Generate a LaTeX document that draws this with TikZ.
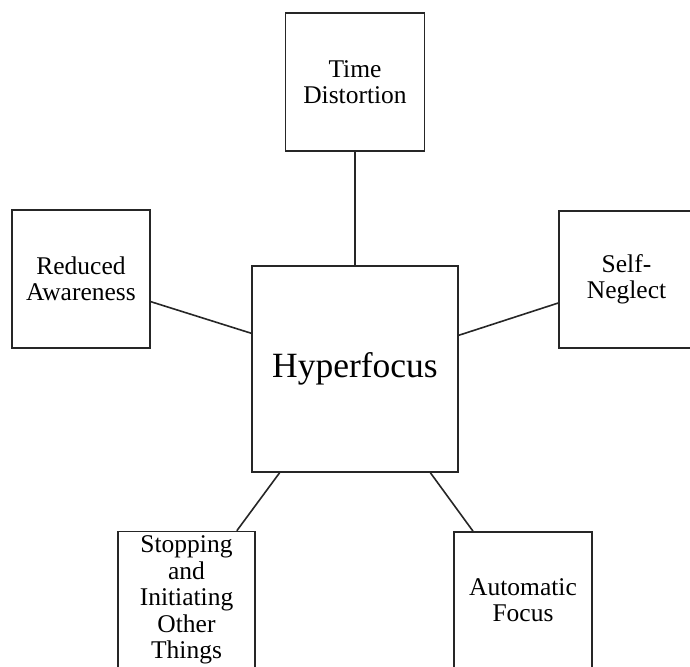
\documentclass[tikz,border=0pt]{standalone}
\usepackage{fontspec}
\setmainfont{Liberation Serif}
\begin{document}
\begin{tikzpicture}[x=1pt,y=-1pt,
  box/.style={draw=black!85,line width=1.6pt,inner sep=0pt,align=center,
    font=\fontsize{25.5}{26.5}\selectfont},
  link/.style={draw=black!85,line width=1.6pt}]
\useasboundingbox (0,0) rectangle (690,666);
\clip (0,0) rectangle (690,666);
\node[box,minimum width=139pt,minimum height=138pt] (T) at (355,82) {Time\\Distortion};
\node[box,minimum width=138pt,minimum height=138pt] (L) at (81,279) {Reduced\\Awareness};
\node[box,minimum width=135pt,minimum height=137pt] (R) at (626.5,279.5) {Self-\\Neglect};
\node[box,minimum width=206pt,minimum height=206pt,font=\fontsize{35.5}{40}\selectfont] (H) at (355,369) {Hyperfocus};
\node[box,minimum width=137pt,minimum height=137pt] (S) at (186.5,600) {Stopping\\and\\Initiating\\Other\\Things};
\node[box,minimum width=138pt,minimum height=136pt] (A) at (523,600) {Automatic\\Focus};
\draw[link] (T.south) -- (H.north);
\draw[link] (L.-18.4) -- (H.161.7);
\draw[link] (R.-161.6) -- (H.18.3);
\draw[link] (S.54.5) -- (H.-126.8);
\draw[link] (A.126.9) -- (H.-54.7);
\end{tikzpicture}
\end{document}
